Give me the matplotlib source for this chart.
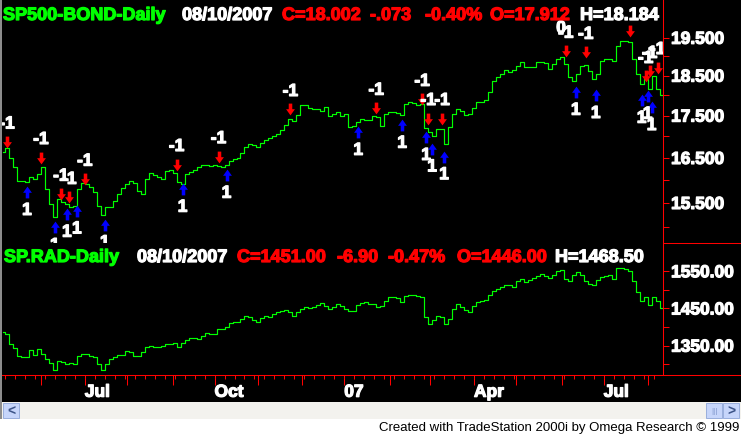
import numpy as np
import pandas as pd
import matplotlib
matplotlib.use('Agg')
import matplotlib.pyplot as plt
import matplotlib.patheffects as pe
from matplotlib.path import Path
from matplotlib.patches import Rectangle
from matplotlib.lines import Line2D
from matplotlib.ticker import FixedLocator, NullFormatter, FuncFormatter

plt.rcParams['font.family'] = ['Liberation Sans', 'DejaVu Sans']
plt.rcParams['font.weight'] = 'bold'

# Торговые дни по 10.08.2007
n_bars = 331
dates = pd.bdate_range(end='2007-08-10', periods=n_bars)
step = 2

# SP500-BOND (отношение), закрытия
bond_ratio = [
    16.63, 16.72, 16.51, 16.29, 15.99, 15.97, 15.95, 16.06, 16.02, 16.13,
    16.29, 15.80, 15.47, 15.19, 15.58, 15.51, 15.47, 15.41, 15.43, 15.80,
    15.93, 15.91, 15.84, 15.73, 15.43, 15.24, 15.41, 15.41, 15.54, 15.69,
    15.82, 15.91, 15.97, 15.93, 15.75, 15.69, 16.02, 16.15, 16.11, 16.06,
    16.02, 16.20, 16.22, 16.15, 15.95, 15.91, 16.13, 16.17, 16.22, 16.29,
    16.33, 16.33, 16.31, 16.35, 16.31, 16.29, 16.33, 16.42, 16.47, 16.51,
    16.61, 16.75, 16.82, 16.79, 16.75, 16.84, 16.91, 16.96, 17.00, 17.05,
    17.15, 17.27, 17.41, 17.36, 17.51, 17.75, 17.75, 17.68, 17.65, 17.65,
    17.61, 17.70, 17.48, 17.53, 17.58, 17.48, 17.53, 17.22, 17.24, 17.34,
    17.41, 17.39, 17.39, 17.48, 17.46, 17.24, 17.53, 17.58, 17.58, 17.56,
    17.51, 17.78, 17.83, 17.80, 17.75, 17.78, 17.19, 17.10, 17.00, 17.17,
    17.17, 16.82, 17.22, 17.53, 17.65, 17.61, 17.51, 17.53, 17.68, 17.83,
    17.83, 17.88, 18.08, 18.36, 18.46, 18.53, 18.64, 18.59, 18.64, 18.74,
    18.85, 18.72, 18.72, 18.72, 18.85, 18.85, 18.82, 18.66, 18.79, 18.93,
    18.98, 18.79, 18.46, 18.36, 18.53, 18.74, 18.77, 18.61, 18.41, 18.53,
    18.87, 18.93, 18.93, 18.87, 19.27, 19.41, 19.41, 19.38, 18.93, 18.53,
    18.28, 18.41, 18.15, 18.48, 18.15, 18.00]

# SP.RAD, закрытия
rad_close = [
    1387, 1381, 1355, 1344, 1322, 1320, 1320, 1338, 1325, 1341,
    1328, 1314, 1304, 1285, 1309, 1306, 1301, 1304, 1301, 1322,
    1328, 1328, 1322, 1320, 1301, 1285, 1301, 1314, 1320, 1325,
    1325, 1336, 1333, 1322, 1322, 1333, 1347, 1349, 1347, 1347,
    1349, 1355, 1355, 1357, 1347, 1357, 1365, 1371, 1371, 1368,
    1376, 1384, 1381, 1381, 1395, 1395, 1400, 1411, 1414, 1414,
    1422, 1430, 1427, 1419, 1414, 1425, 1430, 1427, 1435, 1441,
    1443, 1446, 1441, 1430, 1441, 1449, 1454, 1451, 1454, 1459,
    1465, 1457, 1449, 1454, 1462, 1457, 1449, 1443, 1443, 1459,
    1465, 1468, 1462, 1462, 1454, 1457, 1470, 1481, 1481, 1478,
    1468, 1484, 1486, 1486, 1484, 1481, 1427, 1408, 1419, 1430,
    1427, 1408, 1422, 1449, 1462, 1454, 1446, 1441, 1457, 1468,
    1470, 1473, 1486, 1497, 1502, 1508, 1513, 1513, 1508, 1524,
    1529, 1521, 1527, 1532, 1537, 1543, 1537, 1532, 1540, 1551,
    1554, 1529, 1524, 1540, 1548, 1540, 1524, 1516, 1513, 1527,
    1535, 1537, 1540, 1529, 1559, 1559, 1556, 1551, 1524, 1494,
    1470, 1481, 1459, 1481, 1470, 1451]

# Сигналы: продажа (красные стрелки) и покупка (синие)
sell_idx = [2, 19, 29, 33, 41, 87, 108, 144, 187, 210, 213, 220, 282, 292, 314, 322, 324, 328]
sell_level = [16.87, 16.51, 15.69, 15.62, 16.02, 16.35, 16.53, 17.65, 17.68, 17.90,
              17.43, 17.43, 19.14, 19.11, 19.68, 18.48, 18.61, 18.71]
sell_text = ['-1'] * 14 + [''] + ['-1'] * 3
buy_idx = [12, 26, 32, 37, 51, 90, 112, 178, 200, 212, 215, 221, 287, 297, 320, 323, 325]
buy_level = [15.73, 14.98, 15.26, 15.33, 15.04, 15.80, 16.11, 17.10, 17.27, 16.98,
             16.71, 16.53, 18.08, 18.00, 17.88, 17.98, 17.70]
buy_text = ['1'] * len(buy_idx)
exit_idx = [281]
exit_level = [19.14]
exit_text = ['0']

# Заголовки панелей
bond_head = ['SP500-BOND-Daily', '08/10/2007', 'C=18.002', '-.073', '-0.40%', 'O=17.912', 'H=18.184']
rad_head = ['SP.RAD-Daily', '08/10/2007', 'C=1451.00', '-6.90', '-0.47%', 'O=1446.00', 'H=1468.50']
head_colors = ['#00ff00', 'white', 'red', 'red', 'red', 'red', 'white']

bond_ticks = [15.5, 16.5, 17.5, 18.5, 19.5]
bond_minor = [15.0, 16.0, 17.0, 18.0, 19.0]
rad_ticks = [1350, 1450, 1550]
rad_minor = [1300, 1400, 1500]

footer = 'Created with TradeStation 2000i by Omega Research \u00a9 1999'

W, H = 741, 435
GREEN = '#00ff00'
RED = '#ff0000'
BLUE = '#0000ff'
heavy = [pe.Stroke(linewidth=0.9), pe.Normal()]  # жирнее, как в TradeStation


def rect(x0, y0, x1, y1):
    # прямоугольник в пикселях -> координаты фигуры
    return [x0 / W, 1 - y1 / H, (x1 - x0) / W, (y1 - y0) / H]


def fx(px):
    return px / W


def fy(py):
    return 1 - py / H


fig = plt.figure(figsize=(W / 100, H / 100), dpi=100, facecolor='black')
ax1 = fig.add_axes(rect(2, 0, 663, 244))
ax2 = fig.add_axes(rect(2, 244, 663, 376))

x = np.arange(0, n_bars, step)

for ax in (ax1, ax2):
    ax.set_facecolor('black')
    for s in ['top', 'left', 'bottom']:
        ax.spines[s].set_visible(False)
    ax.spines['right'].set_color(RED)
    ax.spines['right'].set_linewidth(0.75)
    ax.set_xlim(-0.5, 330.7)
    ax.yaxis.tick_right()
    ax.tick_params(axis='y', which='both', length=4.3, width=0.75, color=RED,
                   labelcolor='white', labelsize=12.5, pad=1.5)

# Верхняя панель: SP500-BOND, логарифмическая шкала
ax1.step(x, bond_ratio, where='mid', color=GREEN, lw=0.85)
ax1.set_yscale('log')
ax1.set_ylim(14.66, 20.58)
ax1.yaxis.set_major_locator(FixedLocator(bond_ticks))
ax1.yaxis.set_minor_locator(FixedLocator(bond_minor))
ax1.yaxis.set_major_formatter(FuncFormatter(lambda v, p: f'{v:.3f}'))
ax1.yaxis.set_minor_formatter(NullFormatter())
ax1.tick_params(axis='x', which='both', bottom=False, labelbottom=False)

# Стрелки сигналов
down = Path([(-0.3, 1), (0.3, 1), (0.3, 0.05), (0.75, 0.05), (0, -1),
             (-0.75, 0.05), (-0.3, 0.05), (-0.3, 1)], closed=True)
up = Path([(vx, -vy) for vx, vy in down.vertices], closed=True)

ax1.plot(sell_idx, sell_level, linestyle='none', marker=down, markersize=8.5,
         color=RED, markeredgewidth=0)
ax1.plot(buy_idx, buy_level, linestyle='none', marker=up, markersize=8.5,
         color=BLUE, markeredgewidth=0)

for i, v, t in zip(sell_idx, sell_level, sell_text):
    ax1.annotate(t, (i, v), xytext=(0, 13), textcoords='offset points', ha='center',
                 va='center', color='white', fontsize=12.5, clip_on=True, path_effects=heavy)
for i, v, t in zip(buy_idx, buy_level, buy_text):
    ax1.annotate(t, (i, v), xytext=(0, -13), textcoords='offset points', ha='center',
                 va='center', color='white', fontsize=12.5, clip_on=True, path_effects=heavy)
for i, v, t in zip(exit_idx, exit_level, exit_text):
    ax1.annotate(t, (i, v), xytext=(-2, 16.5), textcoords='offset points', ha='center',
                 va='center', color='white', fontsize=12.5, clip_on=True, path_effects=heavy)

# Нижняя панель: SP.RAD
ax2.step(x, rad_close, where='mid', color=GREEN, lw=0.85)
ax2.set_ylim(1271, 1626)
ax2.yaxis.set_major_locator(FixedLocator(rad_ticks))
ax2.yaxis.set_minor_locator(FixedLocator(rad_minor))
ax2.yaxis.set_major_formatter(FuncFormatter(lambda v, p: f'{v:.2f}'))
ax2.yaxis.set_minor_formatter(NullFormatter())
ax2.spines['bottom'].set_visible(True)
ax2.spines['bottom'].set_color(RED)
ax2.spines['bottom'].set_linewidth(0.75)

# Ось дат: начала месяцев и понедельники
month_idx = [i for i in range(1, n_bars) if dates[i].month != dates[i - 1].month]
month_lbl = []
for i in month_idx:
    d = dates[i]
    if d.month == 1:
        month_lbl.append(f'{d.year % 100:02d}')
    elif d.month in (4, 7, 10):
        month_lbl.append(d.strftime('%b'))
    else:
        month_lbl.append('')
week_idx = [i for i in range(n_bars) if dates[i].weekday() == 0 and i not in month_idx]

ax2.set_xticks(month_idx)
ax2.set_xticklabels(month_lbl)
ax2.set_xticks(week_idx, minor=True)
ax2.tick_params(axis='x', which='major', length=7, width=0.75, color=RED,
                labelcolor='white', labelsize=12.5, pad=0)
ax2.tick_params(axis='x', which='minor', length=3, width=0.75, color=RED)
for lbl in ax2.get_xticklabels():
    lbl.set_ha('left')
    lbl.set_path_effects(heavy)
for ax in (ax1, ax2):
    for lbl in ax.get_yticklabels():
        lbl.set_path_effects(heavy)

# Заголовки
for t, c, px in zip(bond_head, head_colors, [3, 182, 282, 370, 425, 490, 580]):
    fig.text(fx(px), fy(21), t, color=c, fontsize=13, ha='left', va='baseline',
             path_effects=heavy)
for t, c, px in zip(rad_head, head_colors, [4, 137, 237, 337, 388, 457, 555]):
    fig.text(fx(px), fy(263), t, color=c, fontsize=13, ha='left', va='baseline',
             path_effects=heavy)

# Красные линии справа
fig.add_artist(Line2D([fx(663), 1], [fy(244), fy(244)], color=RED, lw=0.75))
fig.add_artist(Line2D([fx(663), 1], [fy(376), fy(376)], color=RED, lw=0.75))

# Полоса прокрутки и подпись
fig.add_artist(Rectangle((0, fy(435)), 1, 15 / H, transform=fig.transFigure,
                         facecolor='white', edgecolor='none'))
fig.add_artist(Rectangle((0, fy(420)), 1, 17 / H, transform=fig.transFigure,
                         facecolor='#f3f2ee', edgecolor='none'))
fig.add_artist(Rectangle((0, fy(420)), 2 / W, 420 / H, transform=fig.transFigure,
                         facecolor='#8c8c8c', edgecolor='none'))
for bx in (3, 706, 723):
    fig.add_artist(Rectangle((fx(bx), fy(419)), 16 / W, 15 / H, transform=fig.transFigure,
                             facecolor='#c6d5fa', edgecolor='#98aedc', lw=0.7))
fig.text(fx(11), fy(411.5), '<', color='#3c5488', fontsize=10, ha='center', va='center')
fig.text(fx(731), fy(411.5), '>', color='#3c5488', fontsize=10, ha='center', va='center')
fig.text(fx(714), fy(411.5), '|||', color='#7b93c9', fontsize=6, ha='center', va='center',
         weight='normal')

fig.text(fx(739), fy(428), footer, color='black', fontsize=9.5, ha='right', va='center',
         weight='normal', family=['Liberation Sans Narrow', 'Liberation Sans', 'DejaVu Sans'])

fig.savefig('out.png', dpi=100, facecolor='black')
